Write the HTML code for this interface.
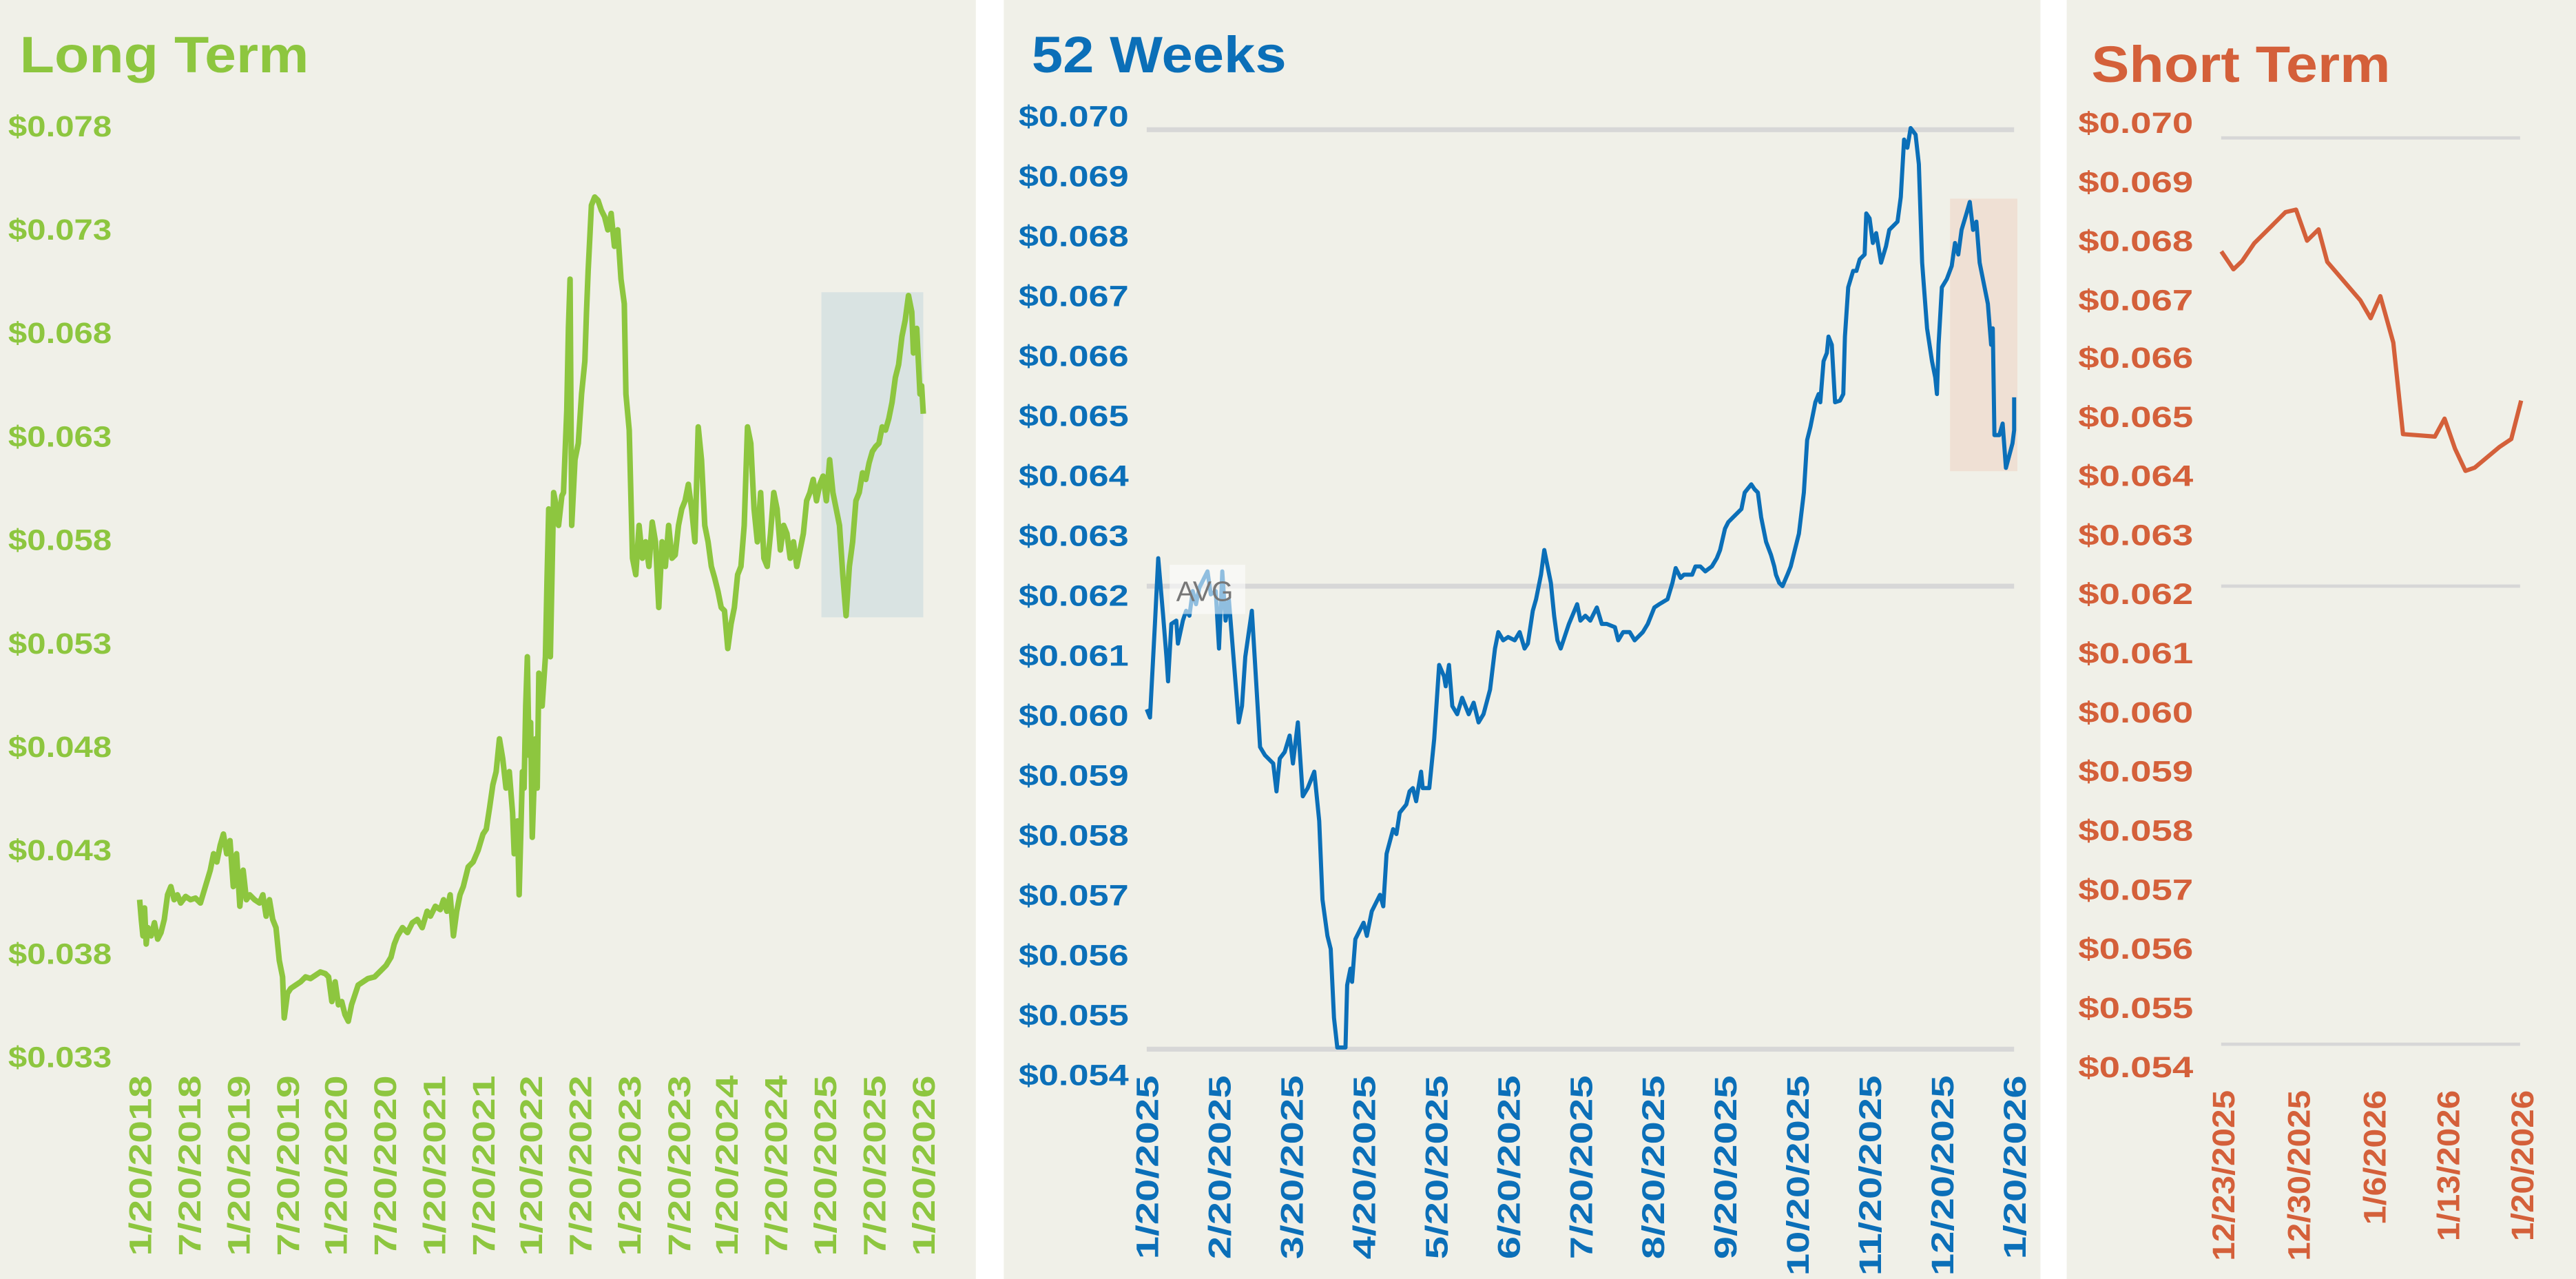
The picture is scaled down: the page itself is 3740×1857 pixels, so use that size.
<!DOCTYPE html>
<html><head><meta charset="utf-8"><style>
html,body{margin:0;padding:0;background:#fff;}
svg{display:block;}
text{font-family:"Liberation Sans",sans-serif;font-weight:bold;}
</style></head><body>
<svg width="3740" height="1857" viewBox="0 0 1568 779" preserveAspectRatio="none" xmlns="http://www.w3.org/2000/svg">
<rect x="0" y="0" width="1568" height="779" fill="#fff"/>
<rect x="0" y="0" width="594" height="779" fill="#f0f0e8"/>
<rect x="611" y="0" width="631" height="779" fill="#f0f0e8"/>
<rect x="1258" y="0" width="310" height="779" fill="#f0f0e8"/>

<!-- Panel 1 -->
<g fill="#8dc63f">
<text x="12" y="44" font-size="31" textLength="176" lengthAdjust="spacingAndGlyphs">Long Term</text>
<g font-size="18">
<text x="5" y="83" textLength="63" lengthAdjust="spacingAndGlyphs">$0.078</text>
<text x="5" y="146" textLength="63" lengthAdjust="spacingAndGlyphs">$0.073</text>
<text x="5" y="209" textLength="63" lengthAdjust="spacingAndGlyphs">$0.068</text>
<text x="5" y="272" textLength="63" lengthAdjust="spacingAndGlyphs">$0.063</text>
<text x="5" y="335" textLength="63" lengthAdjust="spacingAndGlyphs">$0.058</text>
<text x="5" y="398" textLength="63" lengthAdjust="spacingAndGlyphs">$0.053</text>
<text x="5" y="461" textLength="63" lengthAdjust="spacingAndGlyphs">$0.048</text>
<text x="5" y="524" textLength="63" lengthAdjust="spacingAndGlyphs">$0.043</text>
<text x="5" y="587" textLength="63" lengthAdjust="spacingAndGlyphs">$0.038</text>
<text x="5" y="650" textLength="63" lengthAdjust="spacingAndGlyphs">$0.033</text>
</g>
<g font-size="19" text-anchor="end">
<text transform="translate(92,655) rotate(-90)" textLength="110" lengthAdjust="spacingAndGlyphs">1/20/2018</text>
<text transform="translate(122,655) rotate(-90)" textLength="110" lengthAdjust="spacingAndGlyphs">7/20/2018</text>
<text transform="translate(152,655) rotate(-90)" textLength="110" lengthAdjust="spacingAndGlyphs">1/20/2019</text>
<text transform="translate(182,655) rotate(-90)" textLength="110" lengthAdjust="spacingAndGlyphs">7/20/2019</text>
<text transform="translate(211,655) rotate(-90)" textLength="110" lengthAdjust="spacingAndGlyphs">1/20/2020</text>
<text transform="translate(241,655) rotate(-90)" textLength="110" lengthAdjust="spacingAndGlyphs">7/20/2020</text>
<text transform="translate(271,655) rotate(-90)" textLength="110" lengthAdjust="spacingAndGlyphs">1/20/2021</text>
<text transform="translate(301,655) rotate(-90)" textLength="110" lengthAdjust="spacingAndGlyphs">7/20/2021</text>
<text transform="translate(330,655) rotate(-90)" textLength="110" lengthAdjust="spacingAndGlyphs">1/20/2022</text>
<text transform="translate(360,655) rotate(-90)" textLength="110" lengthAdjust="spacingAndGlyphs">7/20/2022</text>
<text transform="translate(390,655) rotate(-90)" textLength="110" lengthAdjust="spacingAndGlyphs">1/20/2023</text>
<text transform="translate(420,655) rotate(-90)" textLength="110" lengthAdjust="spacingAndGlyphs">7/20/2023</text>
<text transform="translate(449,655) rotate(-90)" textLength="110" lengthAdjust="spacingAndGlyphs">1/20/2024</text>
<text transform="translate(479,655) rotate(-90)" textLength="110" lengthAdjust="spacingAndGlyphs">7/20/2024</text>
<text transform="translate(509,655) rotate(-90)" textLength="110" lengthAdjust="spacingAndGlyphs">1/20/2025</text>
<text transform="translate(539,655) rotate(-90)" textLength="110" lengthAdjust="spacingAndGlyphs">7/20/2025</text>
<text transform="translate(569,655) rotate(-90)" textLength="110" lengthAdjust="spacingAndGlyphs">1/20/2026</text>
</g>
</g>
<rect x="500" y="178" width="62" height="198" fill="#d9e3e2"/>
<polyline fill="none" stroke="#8dc63f" stroke-width="3.4" stroke-linejoin="round" points="85,548 86,560 87,570 88,553 89,575 90,565 92,570 94,562 96,572 98,568 100,560 102,545 104,540 106,548 108,545 110,550 113,546 116,548 119,547 122,550 125,540 128,530 130,520 132,525 134,515 136,508 138,520 140,512 142,540 144,520 146,552 148,530 150,548 152,545 155,548 158,550 160,545 162,558 164,548 166,560 168,565 170,585 172,595 173,620 175,605 177,602 180,600 183,598 186,595 189,596 192,594 195,592 198,593 200,595 202,610 204,598 206,612 208,610 210,618 212,622 214,612 216,606 218,600 221,598 224,596 228,595 232,591 235,588 238,583 240,575 242,570 245,565 248,568 251,562 254,560 257,565 260,555 262,558 265,552 268,554 270,548 272,555 274,545 276,570 278,555 280,545 282,540 285,528 288,525 291,518 294,508 296,505 298,492 300,478 302,470 304,450 306,462 308,480 310,470 312,495 313,520 315,500 316,545 318,470 319,480 320,430 321,400 322,460 323,440 324,510 326,450 327,480 328,410 330,430 332,400 333,352 334,310 335,400 337,300 338,305 340,320 342,302 343,300 345,250 346,200 347,170 348,320 350,280 352,270 354,240 356,220 357,190 358,165 360,125 362,120 364,122 366,128 368,132 370,140 372,130 374,150 376,140 378,170 380,185 381,240 383,262 385,340 387,350 389,320 391,340 393,330 395,345 397,318 399,330 401,370 403,330 405,345 407,320 409,340 411,338 413,320 415,310 417,305 419,295 421,310 423,330 425,260 427,280 429,320 431,330 433,345 435,352 437,360 439,370 441,372 443,395 445,380 447,370 449,350 451,345 453,320 455,260 457,270 459,310 461,330 463,300 465,340 467,345 469,325 471,300 473,310 475,335 477,320 479,325 481,340 483,330 485,345 487,335 489,325 491,305 493,300 495,292 497,305 499,295 501,290 503,305 505,280 507,300 509,310 511,320 513,350 515,375 517,345 519,330 521,305 523,300 525,288 527,292 529,282 531,275 533,272 535,270 537,260 539,262 541,255 543,245 545,230 547,222 549,205 551,195 553,180 555,190 556,215 558,200 560,240 561,235 562,252"/>

<!-- Panel 2 -->
<g stroke="#d7d7d7" stroke-width="3">
<line x1="698" y1="79" x2="1226" y2="79"/>
<line x1="698" y1="357" x2="1226" y2="357"/>
<line x1="698" y1="639" x2="1226" y2="639"/>
</g>
<rect x="1187" y="121" width="41" height="166" fill="#efe0d4"/>
<g fill="#0b6fb8">
<text x="628" y="44" font-size="31" textLength="155" lengthAdjust="spacingAndGlyphs">52 Weeks</text>
<g font-size="18">
<text x="620" y="77" textLength="67" lengthAdjust="spacingAndGlyphs">$0.070</text>
<text x="620" y="113.5" textLength="67" lengthAdjust="spacingAndGlyphs">$0.069</text>
<text x="620" y="150" textLength="67" lengthAdjust="spacingAndGlyphs">$0.068</text>
<text x="620" y="186.5" textLength="67" lengthAdjust="spacingAndGlyphs">$0.067</text>
<text x="620" y="223" textLength="67" lengthAdjust="spacingAndGlyphs">$0.066</text>
<text x="620" y="259.5" textLength="67" lengthAdjust="spacingAndGlyphs">$0.065</text>
<text x="620" y="296" textLength="67" lengthAdjust="spacingAndGlyphs">$0.064</text>
<text x="620" y="332.5" textLength="67" lengthAdjust="spacingAndGlyphs">$0.063</text>
<text x="620" y="369" textLength="67" lengthAdjust="spacingAndGlyphs">$0.062</text>
<text x="620" y="405.5" textLength="67" lengthAdjust="spacingAndGlyphs">$0.061</text>
<text x="620" y="442" textLength="67" lengthAdjust="spacingAndGlyphs">$0.060</text>
<text x="620" y="478.5" textLength="67" lengthAdjust="spacingAndGlyphs">$0.059</text>
<text x="620" y="515" textLength="67" lengthAdjust="spacingAndGlyphs">$0.058</text>
<text x="620" y="551.5" textLength="67" lengthAdjust="spacingAndGlyphs">$0.057</text>
<text x="620" y="588" textLength="67" lengthAdjust="spacingAndGlyphs">$0.056</text>
<text x="620" y="624.5" textLength="67" lengthAdjust="spacingAndGlyphs">$0.055</text>
<text x="620" y="661" textLength="67" lengthAdjust="spacingAndGlyphs">$0.054</text>
</g>
<g font-size="19" text-anchor="end">
<text transform="translate(705,655) rotate(-90)" textLength="112" lengthAdjust="spacingAndGlyphs">1/20/2025</text>
<text transform="translate(749,655) rotate(-90)" textLength="112" lengthAdjust="spacingAndGlyphs">2/20/2025</text>
<text transform="translate(793,655) rotate(-90)" textLength="112" lengthAdjust="spacingAndGlyphs">3/20/2025</text>
<text transform="translate(837,655) rotate(-90)" textLength="112" lengthAdjust="spacingAndGlyphs">4/20/2025</text>
<text transform="translate(881,655) rotate(-90)" textLength="112" lengthAdjust="spacingAndGlyphs">5/20/2025</text>
<text transform="translate(925,655) rotate(-90)" textLength="112" lengthAdjust="spacingAndGlyphs">6/20/2025</text>
<text transform="translate(969,655) rotate(-90)" textLength="112" lengthAdjust="spacingAndGlyphs">7/20/2025</text>
<text transform="translate(1013,655) rotate(-90)" textLength="112" lengthAdjust="spacingAndGlyphs">8/20/2025</text>
<text transform="translate(1057,655) rotate(-90)" textLength="112" lengthAdjust="spacingAndGlyphs">9/20/2025</text>
<text transform="translate(1101,655) rotate(-90)" textLength="122" lengthAdjust="spacingAndGlyphs">10/20/2025</text>
<text transform="translate(1145,655) rotate(-90)" textLength="122" lengthAdjust="spacingAndGlyphs">11/20/2025</text>
<text transform="translate(1189,655) rotate(-90)" textLength="122" lengthAdjust="spacingAndGlyphs">12/20/2025</text>
<text transform="translate(1233,655) rotate(-90)" textLength="112" lengthAdjust="spacingAndGlyphs">1/20/2026</text>
</g>
</g>
<polyline fill="none" stroke="#0b6fb8" stroke-width="2.5" stroke-linejoin="round" points="698,432 700,437 703,380 705,340 708,375 710,400 711,415 713,380 716,378 717,392 720,378 722,372 724,375 726,360 728,368 730,358 733,352 735,348 737,362 740,360 742,395 744,348 746,378 748,365 752,415 754,440 756,430 758,400 762,372 764,405 767,455 770,460 775,465 777,482 779,462 782,458 785,448 787,465 790,440 793,485 796,480 800,470 803,500 805,548 808,570 810,578 812,620 814,638 818,638 819,638 820,600 822,590 823,598 825,572 830,562 832,570 835,555 840,545 842,552 844,520 848,505 850,508 852,495 856,490 858,482 860,480 862,488 865,470 866,480 870,480 873,450 876,405 879,412 880,418 882,405 884,430 887,435 890,425 894,435 897,428 900,440 903,435 907,420 910,395 912,385 915,390 918,388 922,390 925,385 928,395 930,392 933,372 935,365 938,350 940,335 942,345 944,355 946,375 948,390 950,395 955,380 960,368 962,378 965,375 968,378 972,370 975,380 978,380 983,382 985,390 988,385 992,385 995,390 1000,385 1003,380 1007,370 1010,368 1015,365 1018,355 1020,346 1023,352 1025,350 1030,350 1032,345 1035,345 1038,348 1042,345 1045,340 1047,335 1050,322 1052,318 1055,315 1060,310 1062,300 1066,295 1068,298 1070,300 1072,315 1075,330 1078,338 1080,345 1081,350 1083,355 1085,357 1088,350 1090,345 1095,325 1098,300 1100,268 1102,260 1105,245 1107,240 1108,245 1110,220 1112,215 1113,205 1115,210 1117,245 1120,244 1122,240 1123,205 1125,175 1128,165 1130,165 1132,158 1135,155 1136,130 1138,133 1140,148 1142,142 1145,160 1148,150 1150,140 1152,138 1155,135 1157,120 1159,85 1161,90 1163,78 1166,82 1168,100 1170,160 1173,200 1176,220 1178,230 1179,240 1180,210 1182,175 1185,170 1188,162 1190,148 1192,155 1194,140 1197,130 1199,123 1201,140 1203,135 1205,160 1208,175 1210,185 1212,210 1213,200 1214,265 1217,265 1219,258 1221,285 1225,270 1226,262 1226,242"/>
<rect x="712" y="344" width="46" height="30" fill="#ffffff" fill-opacity="0.55"/>
<text x="716" y="366" font-size="17" fill="#777" style="font-weight:normal">AVG</text>

<!-- Panel 3 -->
<g stroke="#d7d7d7" stroke-width="2">
<line x1="1352" y1="84" x2="1534" y2="84"/>
<line x1="1352" y1="357" x2="1534" y2="357"/>
<line x1="1352" y1="636" x2="1534" y2="636"/>
</g>
<g fill="#d4603a">
<text x="1273" y="50" font-size="31" textLength="182" lengthAdjust="spacingAndGlyphs">Short Term</text>
<g font-size="18">
<text x="1265" y="81" textLength="70" lengthAdjust="spacingAndGlyphs">$0.070</text>
<text x="1265" y="117" textLength="70" lengthAdjust="spacingAndGlyphs">$0.069</text>
<text x="1265" y="153" textLength="70" lengthAdjust="spacingAndGlyphs">$0.068</text>
<text x="1265" y="189" textLength="70" lengthAdjust="spacingAndGlyphs">$0.067</text>
<text x="1265" y="224" textLength="70" lengthAdjust="spacingAndGlyphs">$0.066</text>
<text x="1265" y="260" textLength="70" lengthAdjust="spacingAndGlyphs">$0.065</text>
<text x="1265" y="296" textLength="70" lengthAdjust="spacingAndGlyphs">$0.064</text>
<text x="1265" y="332" textLength="70" lengthAdjust="spacingAndGlyphs">$0.063</text>
<text x="1265" y="368" textLength="70" lengthAdjust="spacingAndGlyphs">$0.062</text>
<text x="1265" y="404" textLength="70" lengthAdjust="spacingAndGlyphs">$0.061</text>
<text x="1265" y="440" textLength="70" lengthAdjust="spacingAndGlyphs">$0.060</text>
<text x="1265" y="476" textLength="70" lengthAdjust="spacingAndGlyphs">$0.059</text>
<text x="1265" y="512" textLength="70" lengthAdjust="spacingAndGlyphs">$0.058</text>
<text x="1265" y="548" textLength="70" lengthAdjust="spacingAndGlyphs">$0.057</text>
<text x="1265" y="584" textLength="70" lengthAdjust="spacingAndGlyphs">$0.056</text>
<text x="1265" y="620" textLength="70" lengthAdjust="spacingAndGlyphs">$0.055</text>
<text x="1265" y="656" textLength="70" lengthAdjust="spacingAndGlyphs">$0.054</text>
</g>
<g font-size="19" text-anchor="end">
<text transform="translate(1360,664) rotate(-90)" textLength="104" lengthAdjust="spacingAndGlyphs">12/23/2025</text>
<text transform="translate(1406,664) rotate(-90)" textLength="104" lengthAdjust="spacingAndGlyphs">12/30/2025</text>
<text transform="translate(1452,664) rotate(-90)" textLength="82" lengthAdjust="spacingAndGlyphs">1/6/2026</text>
<text transform="translate(1497,664) rotate(-90)" textLength="92" lengthAdjust="spacingAndGlyphs">1/13/2026</text>
<text transform="translate(1542,664) rotate(-90)" textLength="92" lengthAdjust="spacingAndGlyphs">1/20/2026</text>
</g>
</g>
<polyline fill="none" stroke="#d4603a" stroke-width="2.6" stroke-linejoin="round" points="1352.1,153.1 1359.5,164.0 1364.8,159.0 1372.2,148.1 1391.2,129.2 1397.6,127.7 1404.3,146.6 1411.3,139.7 1416.6,159.5 1436.7,182.9 1443.0,193.8 1448.9,180.4 1456.8,208.7 1462.7,264.4 1482.1,265.9 1488.0,255.0 1494.4,273.4 1500.7,286.8 1506.4,284.8 1521.2,272.4 1528.6,267.4 1534.6,244.0"/>
</svg>
</body></html>
